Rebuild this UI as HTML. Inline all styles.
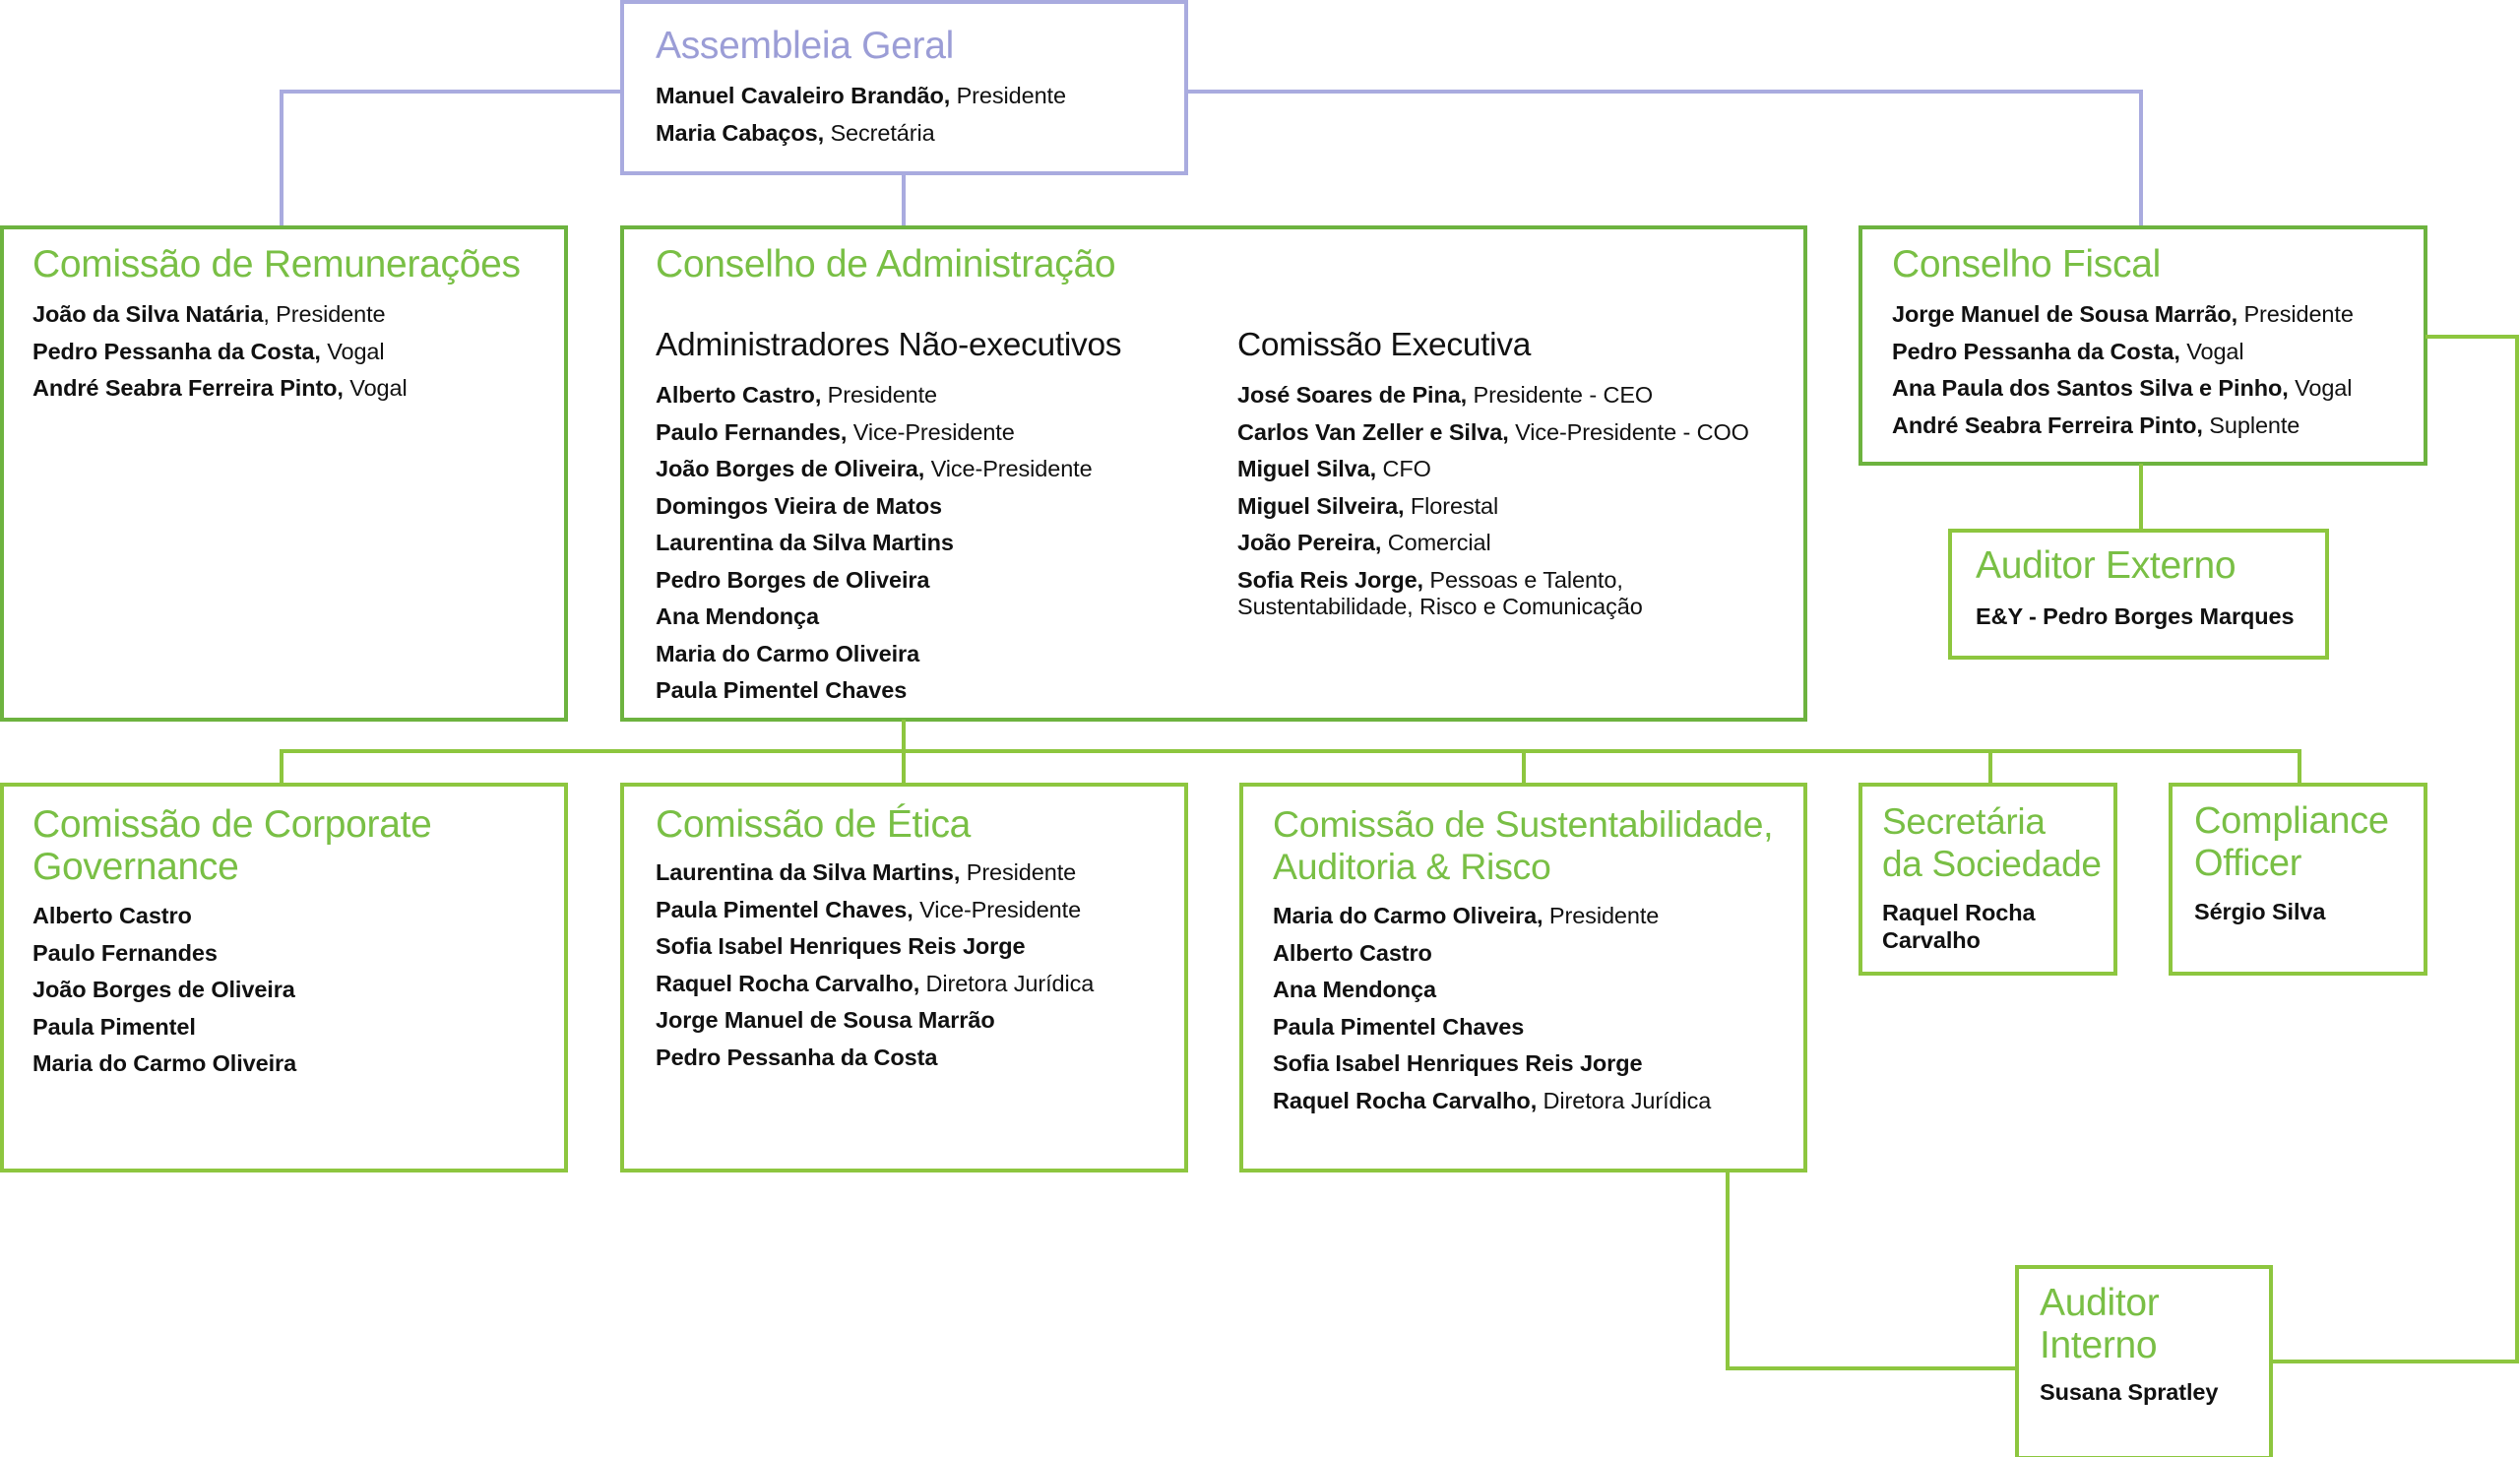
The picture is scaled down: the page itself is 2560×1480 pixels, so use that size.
<!DOCTYPE html>
<html><head><meta charset="utf-8"><style>
body{margin:0;width:2560px;height:1480px;background:#fff;position:relative;overflow:hidden;font-family:"Liberation Sans",Arial,sans-serif;color:#111}
svg{position:absolute;left:0;top:0}
.t{position:absolute;color:#79bf45;font-size:39px;line-height:43px;white-space:nowrap;letter-spacing:-0.3px}
.p{color:#9b9dd6}
.h{position:absolute;font-size:33.5px;line-height:40px;white-space:nowrap;color:#111;letter-spacing:-0.3px}
.l{position:absolute;font-size:23.5px;line-height:37.5px;white-space:nowrap;letter-spacing:-0.1px}
.l b{font-weight:bold}
</style></head><body>
<svg width="2560" height="1480" viewBox="0 0 2560 1480" fill="none">
<g stroke="#a9abdf" stroke-width="4">
<polyline points="632,93 286,93 286,231"/>
<polyline points="1205,93 2175,93 2175,231"/>
<line x1="918" y1="176" x2="918" y2="231"/>
<rect x="632" y="2" width="573" height="174"/>
</g>
<g stroke="#6db33f" stroke-width="4">
<rect x="2" y="231" width="573" height="500"/>
<rect x="632" y="231" width="1202" height="500"/>
<rect x="1890" y="231" width="574" height="240"/>
</g>
<g stroke="#8dc63f" stroke-width="4">
<line x1="2175" y1="471" x2="2175" y2="539"/>
<rect x="1981" y="539" width="383" height="129"/>
<line x1="918" y1="731" x2="918" y2="763"/>
<polyline points="286,797 286,763 2336,763 2336,797"/>
<line x1="918" y1="763" x2="918" y2="797"/>
<line x1="1548" y1="763" x2="1548" y2="797"/>
<line x1="2022" y1="763" x2="2022" y2="797"/>
<rect x="2" y="797" width="573" height="392"/>
<rect x="632" y="797" width="573" height="392"/>
<rect x="1261" y="797" width="573" height="392"/>
<rect x="1890" y="797" width="259" height="192"/>
<rect x="2205" y="797" width="259" height="192"/>
<rect x="2049" y="1287" width="258" height="194"/>
<polyline points="1755,1189 1755,1390 2049,1390"/>
<polyline points="2464,342 2557,342 2557,1383 2307,1383"/>
</g>
</svg>

<div class="t p" style="left:666px;top:25px">Assembleia Geral</div>
<div class="l" style="left:666px;top:79px"><b>Manuel Cavaleiro Brandão,</b> Presidente<br><b>Maria Cabaços,</b> Secretária</div>

<div class="t" style="left:33px;top:247px">Comissão de Remunerações</div>
<div class="l" style="left:33px;top:301px"><b>João da Silva Natária</b>, Presidente<br><b>Pedro Pessanha da Costa,</b> Vogal<br><b>André Seabra Ferreira Pinto,</b> Vogal</div>

<div class="t" style="left:666px;top:247px">Conselho de Administração</div>
<div class="h" style="left:666px;top:331px">Administradores Não-executivos</div>
<div class="l" style="left:666px;top:383px"><b>Alberto Castro,</b> Presidente<br><b>Paulo Fernandes,</b> Vice-Presidente<br><b>João Borges de Oliveira,</b> Vice-Presidente<br><b>Domingos Vieira de Matos</b><br><b>Laurentina da Silva Martins</b><br><b>Pedro Borges de Oliveira</b><br><b>Ana Mendonça</b><br><b>Maria do Carmo Oliveira</b><br><b>Paula Pimentel Chaves</b></div>
<div class="h" style="left:1257px;top:331px">Comissão Executiva</div>
<div class="l" style="left:1257px;top:383px"><b>José Soares de Pina,</b> Presidente - CEO<br><b>Carlos Van Zeller e Silva,</b> Vice-Presidente - COO<br><b>Miguel Silva,</b> CFO<br><b>Miguel Silveira,</b> Florestal<br><b>João Pereira,</b> Comercial<br><b>Sofia Reis Jorge,</b> Pessoas e Talento,</div>
<div class="l" style="left:1257px;top:598px">Sustentabilidade, Risco e Comunicação</div>

<div class="t" style="left:1922px;top:247px">Conselho Fiscal</div>
<div class="l" style="left:1922px;top:301px"><b>Jorge Manuel de Sousa Marrão,</b> Presidente<br><b>Pedro Pessanha da Costa,</b> Vogal<br><b>Ana Paula dos Santos Silva e Pinho,</b> Vogal<br><b>André Seabra Ferreira Pinto,</b> Suplente</div>

<div class="t" style="left:2007px;top:553px">Auditor Externo</div>
<div class="l" style="left:2007px;top:608px"><b>E&amp;Y - Pedro Borges Marques</b></div>

<div class="t" style="left:33px;top:816px">Comissão de Corporate<br>Governance</div>
<div class="l" style="left:33px;top:912px"><b>Alberto Castro</b><br><b>Paulo Fernandes</b><br><b>João Borges de Oliveira</b><br><b>Paula Pimentel</b><br><b>Maria do Carmo Oliveira</b></div>

<div class="t" style="left:666px;top:816px">Comissão de Ética</div>
<div class="l" style="left:666px;top:868px"><b>Laurentina da Silva Martins,</b> Presidente<br><b>Paula Pimentel Chaves,</b> Vice-Presidente<br><b>Sofia Isabel Henriques Reis Jorge</b><br><b>Raquel Rocha Carvalho,</b> Diretora Jurídica<br><b>Jorge Manuel de Sousa Marrão</b><br><b>Pedro Pessanha da Costa</b></div>

<div class="t" style="left:1293px;top:816px;font-size:37.5px">Comissão de Sustentabilidade,<br>Auditoria &amp; Risco</div>
<div class="l" style="left:1293px;top:912px"><b>Maria do Carmo Oliveira,</b> Presidente<br><b>Alberto Castro</b><br><b>Ana Mendonça</b><br><b>Paula Pimentel Chaves</b><br><b>Sofia Isabel Henriques Reis Jorge</b><br><b>Raquel Rocha Carvalho,</b> Diretora Jurídica</div>

<div class="t" style="left:1912px;top:813px;font-size:37px">Secretária<br>da Sociedade</div>
<div class="l" style="left:1912px;top:913px;line-height:28px"><b>Raquel Rocha<br>Carvalho</b></div>

<div class="t" style="left:2229px;top:813px;font-size:38px">Compliance<br>Officer</div>
<div class="l" style="left:2229px;top:908px"><b>Sérgio Silva</b></div>

<div class="t" style="left:2072px;top:1302px">Auditor<br>Interno</div>
<div class="l" style="left:2072px;top:1396px"><b>Susana Spratley</b></div>
</body></html>
